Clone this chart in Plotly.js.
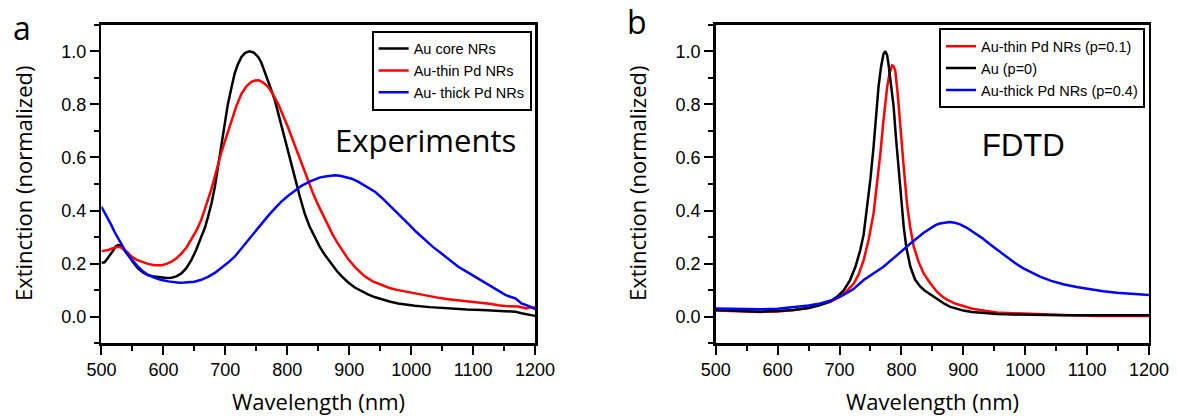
<!DOCTYPE html>
<html>
<head>
<meta charset="utf-8">
<script src="https://cdn.plot.ly/plotly-3.0.1.min.js"></script>
<style>html,body{margin:0;padding:0;background:#fff;}#chart{width:1177px;height:418px;}</style>
</head>
<body>
<div id="chart"></div>
<script>
// ---------- Panel a: Experiments ----------
const expCoreX = [500,505,510,515,519,523,527,531,535,543,551,559,567,575,585,597,605,613,621,629,637,645,653,661,667,672,678,683,688,693,699,704,710,715,720,726,732,739,746,753,758,763,771,780,788,796,804,812,820,828,836,844,852,860,871,880,888,898,909,920,931,942,952,965,979,992,1006,1030,1060,1090,1114,1140,1168,1178,1190,1200];
const expCoreY = [0.203,0.205,0.22,0.235,0.25,0.265,0.27,0.268,0.257,0.232,0.205,0.182,0.167,0.157,0.151,0.147,0.146,0.147,0.152,0.163,0.183,0.213,0.252,0.30,0.335,0.376,0.43,0.489,0.56,0.64,0.72,0.80,0.865,0.916,0.95,0.979,0.994,1.0,0.995,0.979,0.958,0.928,0.875,0.815,0.745,0.677,0.60,0.527,0.455,0.389,0.34,0.30,0.265,0.235,0.20,0.172,0.152,0.13,0.11,0.095,0.083,0.073,0.065,0.057,0.05,0.045,0.041,0.036,0.031,0.027,0.025,0.022,0.019,0.013,0.008,0.003];

const expThinX = [500,505,511,516,521,526,530,534,538,543,548,556,564,575,586,597,605,613,621,629,637,645,653,661,669,677,685,693,702,710,718,726,734,742,748,754,761,769,777,785,793,801,809,817,825,833,841,849,857,865,873,881,890,898,910,925,938,952,965,979,992,1006,1020,1033,1047,1060,1087,1114,1130,1140,1152,1173,1180,1186,1192,1200];
const expThinY = [0.247,0.248,0.251,0.256,0.26,0.263,0.263,0.258,0.251,0.24,0.228,0.215,0.207,0.199,0.194,0.194,0.199,0.207,0.22,0.238,0.26,0.289,0.323,0.364,0.418,0.477,0.545,0.615,0.68,0.74,0.795,0.84,0.868,0.885,0.89,0.891,0.882,0.866,0.838,0.803,0.762,0.715,0.665,0.615,0.565,0.514,0.468,0.425,0.385,0.345,0.31,0.278,0.245,0.218,0.185,0.152,0.133,0.119,0.108,0.10,0.094,0.088,0.081,0.075,0.07,0.066,0.059,0.053,0.048,0.043,0.04,0.038,0.034,0.031,0.035,0.035];

const expThickX = [500,506,511,516,521,527,532,538,543,551,559,567,575,586,597,608,618,626,634,642,650,661,672,683,693,704,715,726,737,747,758,769,780,790,801,812,823,835,845,852,861,869,877,885,893,904,915,928,942,955,968,982,995,1008,1022,1035,1049,1062,1076,1090,1103,1117,1130,1141,1152,1160,1168,1173,1178,1184,1189,1195,1200];
const expThickY = [0.414,0.39,0.37,0.345,0.32,0.295,0.27,0.25,0.232,0.208,0.188,0.171,0.157,0.146,0.138,0.133,0.129,0.128,0.129,0.13,0.132,0.139,0.15,0.165,0.182,0.203,0.226,0.257,0.289,0.32,0.351,0.38,0.408,0.433,0.455,0.475,0.493,0.508,0.518,0.524,0.528,0.531,0.533,0.531,0.527,0.52,0.508,0.49,0.47,0.443,0.414,0.383,0.351,0.32,0.289,0.263,0.238,0.213,0.188,0.169,0.151,0.132,0.113,0.097,0.082,0.075,0.069,0.06,0.05,0.045,0.041,0.035,0.028];

// ---------- Panel b: FDTD ----------
const fdtdThinX = [500,530,572,600,626,650,669,685,701,712,723,731,739,747,755,761,766,771,777,781,785,787,790,794,798,803.5,809,814,820,828,836,846,857,865,873,886,900,913,927,954,980,1008,1061,1115,1200];
const fdtdThinY = [0.023,0.021,0.018,0.02,0.025,0.033,0.044,0.056,0.075,0.097,0.125,0.16,0.213,0.29,0.389,0.5,0.615,0.74,0.866,0.92,0.947,0.945,0.928,0.84,0.715,0.57,0.427,0.34,0.263,0.205,0.163,0.128,0.095,0.078,0.065,0.05,0.04,0.031,0.025,0.016,0.013,0.01,0.006,0.003,0.003];

const fdtdAuX = [500,530,572,600,626,650,669,685,696,707,717,726,733.5,739,744,750,755,759,763,767,771,774,777,779,783,787.5,791,795.6,799.5,803.7,808,814.5,822,830.6,838,846,855,862,870,878,889,900,914,927,954,980,1008,1061,1115,1200];
const fdtdAuY = [0.025,0.022,0.019,0.021,0.025,0.033,0.044,0.058,0.075,0.10,0.138,0.19,0.251,0.31,0.40,0.52,0.64,0.75,0.866,0.94,0.99,1.0,0.985,0.954,0.88,0.79,0.68,0.552,0.44,0.339,0.26,0.188,0.14,0.113,0.098,0.085,0.07,0.059,0.048,0.038,0.03,0.023,0.018,0.015,0.01,0.008,0.006,0.005,0.005,0.005];

const fdtdThickX = [500,540,572,600,626,650,669,690,706.6,722,739,755,771,793,814.5,836,846,855,862,870,878,886,894,905,916,930,943,956,970,983,997,1010,1024,1042,1061.5,1083,1104.6,1126,1148,1174,1200];
const fdtdThickY = [0.031,0.029,0.028,0.03,0.035,0.042,0.05,0.064,0.082,0.103,0.138,0.163,0.188,0.232,0.276,0.316,0.332,0.345,0.351,0.355,0.357,0.354,0.349,0.336,0.32,0.297,0.273,0.25,0.226,0.203,0.182,0.166,0.151,0.135,0.122,0.112,0.103,0.096,0.09,0.085,0.082];

const legendA = ['Au core NRs','Au-thin Pd NRs','Au- thick Pd NRs'];
const legendB = ['Au-thin Pd NRs (p=0.1)','Au (p=0)','Au-thick Pd NRs (p=0.4)'];
const xTickVals = [500,600,700,800,900,1000,1100,1200];
const yTickVals = [0.0,0.2,0.4,0.6,0.8,1.0];

const LW = 2.5;
const traces = [
  {x: expCoreX, y: expCoreY, name: legendA[0], mode:'lines', line:{color:'#000000', width:LW}, xaxis:'x', yaxis:'y', legend:'legend'},
  {x: expThinX, y: expThinY, name: legendA[1], mode:'lines', line:{color:'#ff0000', width:LW}, xaxis:'x', yaxis:'y', legend:'legend'},
  {x: expThickX, y: expThickY, name: legendA[2], mode:'lines', line:{color:'#0000ff', width:LW}, xaxis:'x', yaxis:'y', legend:'legend'},
  {x: fdtdThinX, y: fdtdThinY, name: legendB[0], mode:'lines', line:{color:'#ff0000', width:LW}, xaxis:'x2', yaxis:'y2', legend:'legend2'},
  {x: fdtdAuX, y: fdtdAuY, name: legendB[1], mode:'lines', line:{color:'#000000', width:LW}, xaxis:'x2', yaxis:'y2', legend:'legend2'},
  {x: fdtdThickX, y: fdtdThickY, name: legendB[2], mode:'lines', line:{color:'#0000ff', width:LW}, xaxis:'x2', yaxis:'y2', legend:'legend2'}
];

const tickFont = {family:'Liberation Sans, Arial, sans-serif', size:18, color:'#000'};
function xax(domain, anchor){
  return {domain: domain, anchor: anchor, range:[500,1200], tickvals: xTickVals, ticks:'outside', ticklen:9, tickwidth:2, tickcolor:'#000',
    showline:true, linewidth:2.5, linecolor:'#000', mirror:true, showgrid:false, zeroline:false, tickfont: tickFont,
    minor:{dtick:50, tick0:500, ticks:'outside', ticklen:5, tickwidth:2, tickcolor:'#000', showgrid:false}};
}
function yax(anchor){
  return {domain:[0.1789,0.9407], anchor: anchor, range:[-0.1,1.1], tickvals: yTickVals, tickformat:'.1f', ticks:'outside', ticklen:9, tickwidth:2, tickcolor:'#000',
    showline:true, linewidth:2.5, linecolor:'#000', mirror:true, showgrid:false, zeroline:false, tickfont: tickFont,
    minor:{dtick:0.1, tick0:-0.1, ticks:'outside', ticklen:5, tickwidth:2, tickcolor:'#000', showgrid:false}};
}
const titleFont = {family:'Open Sans, sans-serif', size:22, color:'#000'};
const legFont = {family:'Liberation Sans, Arial, sans-serif', size:14.5, color:'#000'};

function ann(text, x, y, font, extra){
  return Object.assign({text:text, xref:'paper', yref:'paper', x:x, y:y, xanchor:'center', yanchor:'middle', showarrow:false, font:font}, extra||{});
}

const layout = {
  width:1177, height:418,
  margin:{l:0,r:0,t:0,b:0},
  paper_bgcolor:'#fff', plot_bgcolor:'#fff',
  showlegend:true,
  xaxis: xax([0.0862,0.4546],'y'),
  yaxis: yax('x'),
  xaxis2: xax([0.6081,0.9762],'y2'),
  yaxis2: yax('x2'),
  legend:{x:0.4517, y:0.9266, xanchor:'right', yanchor:'top', bgcolor:'#fff', bordercolor:'#000', borderwidth:2, font:legFont, tracegroupgap:0},
  legend2:{x:0.9728, y:0.9323, xanchor:'right', yanchor:'top', bgcolor:'#fff', bordercolor:'#000', borderwidth:2, font:legFont, tracegroupgap:0},
  annotations:[
    ann('Experiments', 0.3619, 0.665, {family:'Open Sans, sans-serif', size:31, color:'#000'}),
    ann('FDTD', 0.870, 0.653, {family:'Liberation Sans, Arial, sans-serif', size:31, color:'#000'}),
    ann('a', 0.0187, 0.935, {family:'Open Sans, sans-serif', size:32, color:'#000'}),
    ann('b', 0.541, 0.949, {family:'Open Sans, sans-serif', size:32, color:'#000'}),
    ann('Extinction (normalized)', 0.0195, 0.562, titleFont, {textangle:-90}),
    ann('Extinction (normalized)', 0.5412, 0.562, titleFont, {textangle:-90}),
    ann('Wavelength (nm)', 0.2703, 0.0407, titleFont),
    ann('Wavelength (nm)', 0.792, 0.0407, titleFont)
  ]
};

Plotly.newPlot('chart', traces, layout, {displayModeBar:false, staticPlot:true});
</script>
</body>
</html>
